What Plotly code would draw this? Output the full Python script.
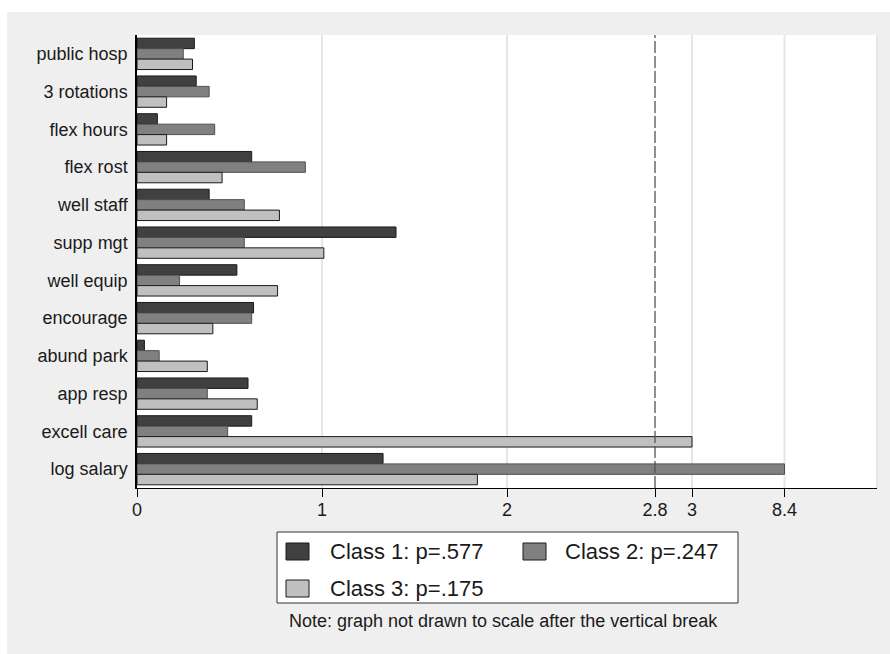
import plotly.graph_objects as go

# Item labels, top to bottom
categories = ["public hosp", "3 rotations", "flex hours", "flex rost", "well staff",
              "supp mgt", "well equip", "encourage", "abund park", "app resp",
              "excell care", "log salary"]

class_names = ["Class 1: p=.577", "Class 2: p=.247", "Class 3: p=.175"]

class1 = [0.31, 0.32, 0.11, 0.62, 0.39, 1.40, 0.54, 0.63, 0.04, 0.60, 0.62, 1.33]
class2 = [0.25, 0.39, 0.42, 0.91, 0.58, 0.58, 0.23, 0.62, 0.12, 0.38, 0.49, 8.4]
class3 = [0.30, 0.16, 0.16, 0.46, 0.77, 1.01, 0.76, 0.41, 0.38, 0.65, 3.0, 1.84]

tick_values = [0, 1, 2, 2.8, 3, 8.4]
tick_labels = ["0", "1", "2", "2.8", "3", "8.4"]
break_value = 2.8

fills = ["#404040", "#808080", "#c0c0c0"]
edges = ["#1a1a1a", "#505050", "#1a1a1a"]

# The axis is linear up to 3; anything beyond is squeezed into the last half unit
LINEAR_LIMIT = 3.0
TOP_VALUE = 8.4


def axis_pos(v):
    if v <= LINEAR_LIMIT:
        return v
    return LINEAR_LIMIT + (v - LINEAR_LIMIT) * 0.5 / (TOP_VALUE - LINEAR_LIMIT)


W, H = 890, 654
ML, MR, MT, MB = 137, 13, 35, 166
PW, PH = W - ML - MR, H - MT - MB


def px(x):
    return (x - ML) / PW


def py(y):
    return (H - MB - y) / PH


FONT = "Liberation Sans, Arial, sans-serif"

fig = go.Figure()
for name, vals, fc, ec in zip(class_names, [class1, class2, class3], fills, edges):
    fig.add_trace(go.Bar(
        y=categories, x=[axis_pos(v) for v in vals], orientation="h",
        name=name, marker=dict(color=fc, line=dict(color=ec, width=1)),
        customdata=vals, hovertemplate="%{y}: %{customdata}<extra>" + name + "</extra>",
        showlegend=False,
    ))

shapes = []
# white strip around the grey panel
shapes.append(dict(type="rect", xref="paper", yref="paper", x0=px(-5), x1=px(W + 5),
                   y0=py(12), y1=py(-5), fillcolor="white", line_width=0, layer="below"))
shapes.append(dict(type="rect", xref="paper", yref="paper", x0=px(-5), x1=px(7),
                   y0=py(H + 5), y1=py(-5), fillcolor="white", line_width=0, layer="below"))

# vertical grid lines
for v in [1, 2, 3, 8.4]:
    shapes.append(dict(type="line", xref="x", yref="paper", x0=axis_pos(v), x1=axis_pos(v),
                       y0=0, y1=1, line=dict(color="#e6e6e6", width=2), layer="below"))
shapes.append(dict(type="line", xref="paper", yref="paper", x0=1, x1=1, y0=0, y1=1,
                   line=dict(color="#e6e6e6", width=2), layer="below"))

# the break
shapes.append(dict(type="line", xref="x", yref="paper", x0=axis_pos(break_value),
                   x1=axis_pos(break_value), y0=0, y1=1,
                   line=dict(color="#555555", width=1.3, dash="12px,3px")))

# legend box
shapes.append(dict(type="rect", xref="paper", yref="paper", x0=px(277), x1=px(738),
                   y0=py(603), y1=py(532), fillcolor="white",
                   line=dict(color="#333333", width=1)))
swatches = [(286, 543), (523, 543), (286, 580)]
text_pos = [(328, 551), (563, 551), (328, 588.5)]
annotations = []
for (sx, sy), (tx, ty), fc, ec, name in zip(swatches, text_pos, fills, edges, class_names):
    shapes.append(dict(type="rect", xref="paper", yref="paper", x0=px(sx), x1=px(sx + 23),
                       y0=py(sy + 17), y1=py(sy), fillcolor=fc,
                       line=dict(color="#1a1a1a", width=1)))
    annotations.append(dict(xref="paper", yref="paper", x=px(tx), y=py(ty), text=name,
                            showarrow=False, xanchor="left", yanchor="middle",
                            font=dict(family=FONT, size=22, color="#1a1a1a")))

annotations.append(dict(xref="paper", yref="paper", x=px(503), y=py(621),
                        text="Note: graph not drawn to scale after the vertical break",
                        showarrow=False, xanchor="center", yanchor="middle",
                        font=dict(family=FONT, size=18, color="#1a1a1a")))

fig.update_layout(
    width=W, height=H,
    margin=dict(l=ML, r=MR, t=MT, b=MB),
    paper_bgcolor="#efefef", plot_bgcolor="white",
    barmode="group", bargap=0.17, bargroupgap=0,
    font=dict(family=FONT, size=18, color="#1a1a1a"),
    shapes=shapes, annotations=annotations,
    showlegend=False,
)
fig.update_xaxes(
    range=[0, 4], tickvals=[axis_pos(v) for v in tick_values], ticktext=tick_labels,
    showgrid=False, zeroline=False, showline=True, linecolor="black", linewidth=1.2,
    ticks="outside", ticklen=8, tickcolor="black", tickwidth=1.2,
    tickfont=dict(size=18), ticklabelstandoff=-3,
)
fig.update_yaxes(
    autorange="reversed", showgrid=False, zeroline=False, showline=True,
    linecolor="black", linewidth=1.5, ticks="", ticklabelstandoff=4,
    tickfont=dict(size=18),
)

fig.write_html("out.html")
